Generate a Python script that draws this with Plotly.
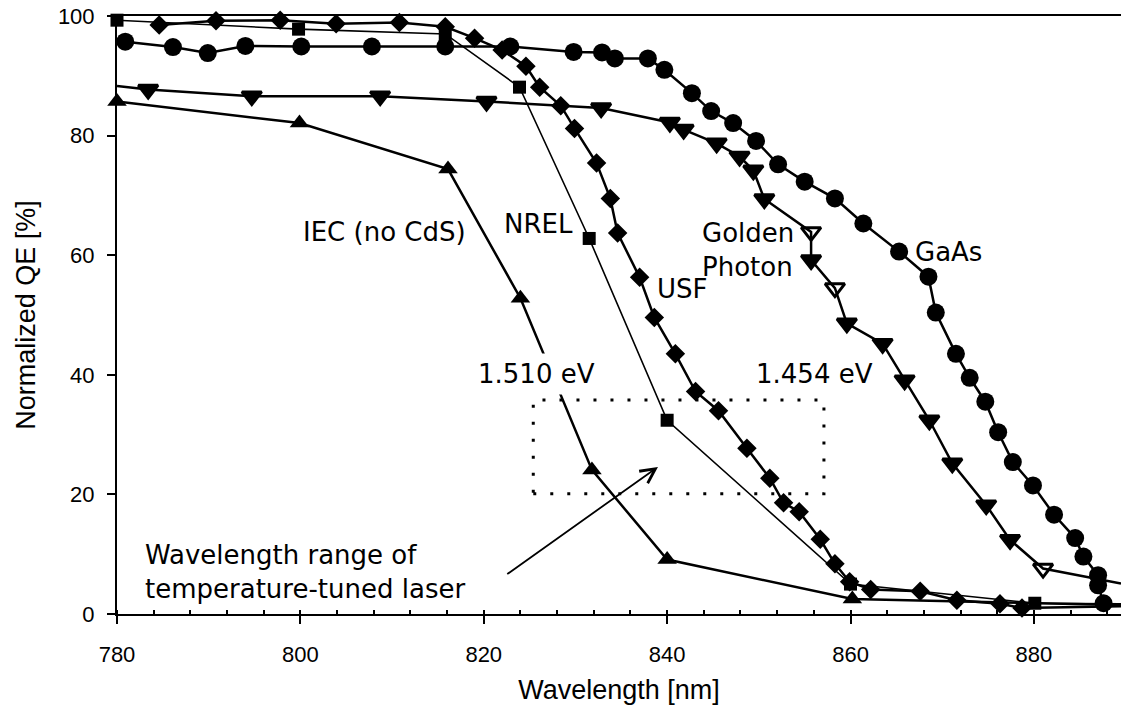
import plotly.graph_objects as go

# Normalized quantum efficiency vs. wavelength for several solar cells
gaas_nm = [780.9, 786.1, 789.9, 794.0, 800.1, 807.8, 815.8, 822.9, 829.8, 832.9,
           834.3, 837.9, 839.7, 842.7, 844.8, 847.2, 849.7, 852.1, 855.0, 858.3,
           861.4, 865.3, 868.5, 869.3, 871.5, 873.0, 874.7, 876.1, 877.7, 879.9,
           882.2, 884.5, 885.4, 887.0, 887.0, 887.6]
gaas_qe = [95.7, 94.8, 93.8, 95.0, 94.9, 94.9, 94.9, 94.9, 94.0, 93.9,
           92.9, 92.9, 91.0, 87.1, 84.1, 82.1, 79.1, 75.2, 72.3, 69.5,
           65.3, 60.6, 56.4, 50.4, 43.5, 39.5, 35.5, 30.4, 25.4, 21.5,
           16.6, 12.7, 9.6, 6.5, 4.8, 1.8]

usf_nm = [784.6, 790.8, 797.8, 803.9, 810.8, 815.8, 819.0, 822.0, 824.6, 826.1,
          828.4, 829.9, 832.3, 833.8, 834.6, 837.0, 838.6, 840.9, 843.1, 845.6,
          848.7, 851.2, 852.7, 854.4, 856.7, 858.3, 859.9, 862.2, 867.6, 871.6,
          876.3, 878.7, 889.5]
usf_qe = [98.5, 99.2, 99.3, 98.7, 98.9, 98.2, 96.3, 94.3, 91.6, 88.1,
          85.0, 81.2, 75.4, 69.5, 63.7, 56.3, 49.6, 43.5, 37.2, 34.0,
          27.7, 22.7, 18.6, 17.1, 12.5, 8.4, 5.4, 4.1, 3.8, 2.3,
          1.7, 1.0, 1.3]

nrel_nm = [780.0, 799.8, 815.8, 823.9, 831.5, 840.0, 860.0, 880.1, 889.5]
nrel_qe = [99.3, 97.8, 97.0, 88.1, 62.8, 32.4, 5.0, 1.8, 1.7]

golden_nm = [780.0, 783.4, 794.7, 808.7, 820.3, 832.8, 840.3, 841.8, 845.4, 847.9,
             849.4, 850.6, 855.7, 855.7, 858.3, 859.6, 863.5, 865.9, 868.6, 871.1,
             874.8, 877.4, 881.0, 889.5]
golden_qe = [88.3, 87.7, 86.6, 86.6, 85.7, 84.6, 82.2, 81.0, 78.7, 76.5,
             74.2, 69.4, 63.9, 59.2, 54.5, 48.6, 45.2, 39.1, 32.4, 25.2,
             18.2, 12.4, 7.6, 5.1]

iec_nm = [780.0, 799.9, 816.1, 824.0, 831.8, 840.0, 860.2, 889.5]
iec_qe = [85.7, 82.1, 74.4, 52.8, 24.1, 9.1, 2.5, 1.5]

# Tunable laser window (wavelength and QE bounds)
laser_nm = [825.4, 857.1]
laser_qe = [20.1, 35.8]

x_ticks = [780, 800, 820, 840, 860, 880]
y_ticks = [0, 20, 40, 60, 80, 100]

INK = "black"
TEXT_FONT = dict(family="DejaVu Sans", size=26, color=INK)
TICK_FONT = dict(family="Liberation Sans, Arial", size=22, color=INK)
TITLE_FONT = dict(family="Liberation Sans, Arial", size=27, color=INK)


def sizes(xs, size, skip_last=False, skip_first=False):
    out = [size] * len(xs)
    if skip_first:
        out[0] = 0
    if skip_last:
        out[-1] = 0
    return out


fig = go.Figure()

fig.add_trace(go.Scatter(
    x=iec_nm, y=iec_qe, mode="lines+markers", name="IEC (no CdS)", cliponaxis=False,
    line=dict(color=INK, width=2.5),
    marker=dict(symbol="triangle-up", size=sizes(iec_nm, 17, skip_last=True),
                color=INK, opacity=1, line=dict(width=0)),
))

fig.add_trace(go.Scatter(
    x=nrel_nm, y=nrel_qe, mode="lines+markers", name="NREL", cliponaxis=False,
    line=dict(color=INK, width=1.6),
    marker=dict(symbol="square", size=sizes(nrel_nm, 13, skip_last=True),
                color=INK, opacity=1, line=dict(width=0)),
))

golden_symbols = ["triangle-down"] * len(golden_nm)
for i in (12, 14, 22):
    golden_symbols[i] = "triangle-down-open"
fig.add_trace(go.Scatter(
    x=golden_nm, y=golden_qe, mode="lines+markers", name="Golden Photon", cliponaxis=False,
    line=dict(color=INK, width=2.5),
    marker=dict(symbol=golden_symbols,
                size=sizes(golden_nm, 17, skip_last=True, skip_first=True),
                color=INK, opacity=1, line=dict(color=INK, width=3)),
))

fig.add_trace(go.Scatter(
    x=usf_nm, y=usf_qe, mode="lines+markers", name="USF", cliponaxis=False,
    line=dict(color=INK, width=2.5),
    marker=dict(symbol="diamond", size=sizes(usf_nm, 15, skip_last=True),
                color=INK, opacity=1, line=dict(width=0)),
))

fig.add_trace(go.Scatter(
    x=gaas_nm, y=gaas_qe, mode="lines+markers", name="GaAs", cliponaxis=False,
    line=dict(color=INK, width=2.5),
    marker=dict(symbol="circle", size=18, color=INK, opacity=1, line=dict(width=0)),
))

# Dotted box marking the laser tuning range
fig.add_shape(type="rect", xref="x", yref="y",
              x0=laser_nm[0], x1=laser_nm[1], y0=laser_qe[0], y1=laser_qe[1],
              line=dict(color=INK, width=3, dash="3px,14px"))


def label(x, y, text, xanchor="center", bg=None, pad=1):
    fig.add_annotation(x=x, y=y, xref="x", yref="y", text=text, showarrow=False,
                       xanchor=xanchor, yanchor="middle", align="left", font=TEXT_FONT,
                       bgcolor=bg, borderpad=pad)


label(809.2, 63.9, "IEC (no CdS)")
label(826.0, 65.2, "NREL")
label(841.7, 54.3, "USF")
label(843.6, 60.9, "Golden<br>Photon", xanchor="left")
label(866.8, 60.5, "GaAs", xanchor="left")
label(825.8, 40.1, "1.510 eV", bg="white", pad=5)
label(856.1, 40.1, "1.454 eV")
label(782.8, 7.0, "Wavelength range of<br>temperature-tuned laser", xanchor="left")

# Pointer from the caption to the laser window
fig.add_annotation(x=839.0, y=24.6, ax=822.4, ay=6.5, xref="x", yref="y",
                   axref="x", ayref="y", text="", showarrow=True,
                   arrowhead=5, arrowsize=1.6, arrowwidth=1.8, arrowcolor=INK)

fig.update_layout(
    width=1121, height=713,
    margin=dict(l=117, r=0, t=16, b=99),
    paper_bgcolor="white", plot_bgcolor="white",
    showlegend=False,
    font=dict(family="Liberation Sans, Arial", color=INK),
)

fig.update_xaxes(
    range=[780, 889.5], tickvals=x_ticks, ticks="outside", ticklen=8, tickwidth=2,
    tickcolor=INK, showline=True, linewidth=2, linecolor=INK, mirror=True,
    showgrid=False, zeroline=False, tickfont=TICK_FONT, ticklabelstandoff=12,
    minor=dict(dtick=4, tick0=780, ticks="inside", ticklen=4, tickwidth=1.5, tickcolor=INK),
    title=dict(text="Wavelength [nm]", font=TITLE_FONT, standoff=14),
)

fig.update_yaxes(
    range=[0, 100], tickvals=y_ticks, ticks="outside", ticklen=8, tickwidth=2,
    tickcolor=INK, showline=True, linewidth=2, linecolor=INK, mirror=False,
    showgrid=False, zeroline=False, tickfont=TICK_FONT, ticklabelstandoff=8,
    title=dict(text="Normalized QE [%]", font=TITLE_FONT, standoff=14),
)

fig.write_html("out.html")
